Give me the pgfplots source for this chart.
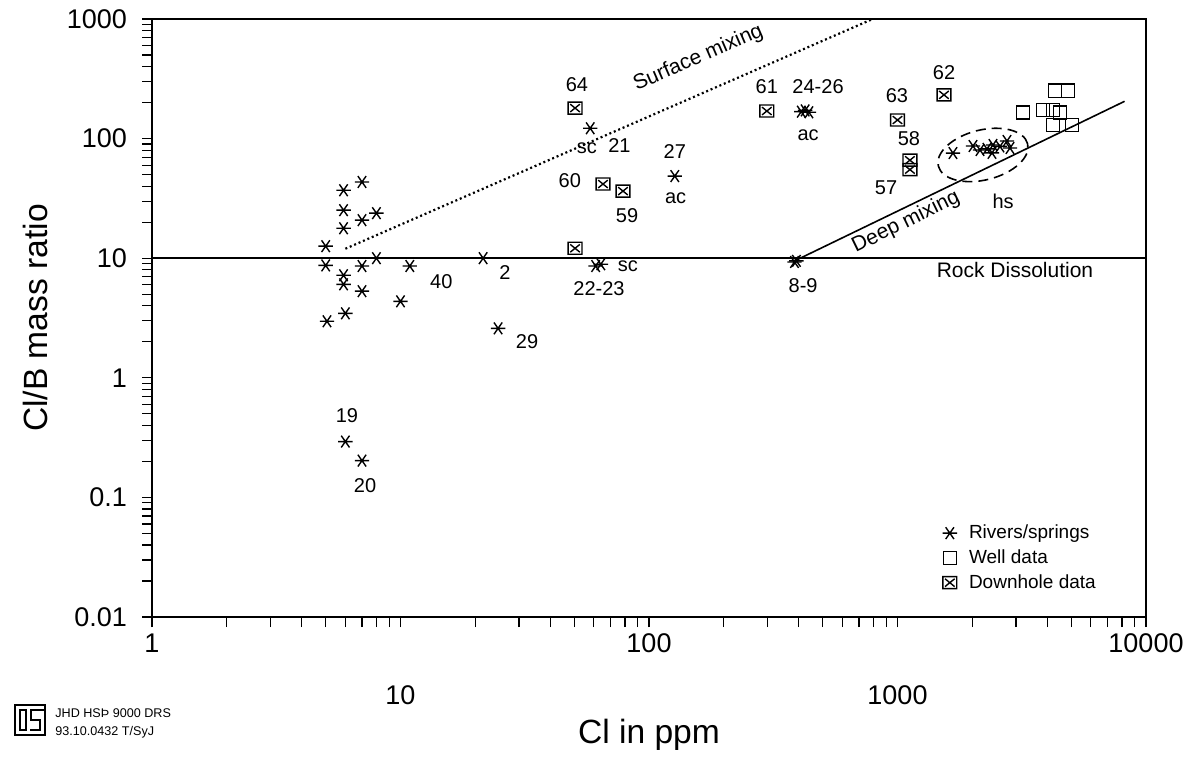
\documentclass[border=0pt]{standalone}
\usepackage{fontspec}
\setmainfont{Liberation Sans}
\usepackage{pgfplots}
\pgfplotsset{compat=1.18}
\usetikzlibrary{shapes.geometric}

\pgfdeclareplotmark{riv}{%
 \pgfpathmoveto{\pgfqpoint{-\pgfplotmarksize}{0pt}}%
 \pgfpathlineto{\pgfqpoint{\pgfplotmarksize}{0pt}}%
 \pgfpathmoveto{\pgfqpoint{-0.574\pgfplotmarksize}{-0.819\pgfplotmarksize}}%
 \pgfpathlineto{\pgfqpoint{0.574\pgfplotmarksize}{0.819\pgfplotmarksize}}%
 \pgfpathmoveto{\pgfqpoint{-0.574\pgfplotmarksize}{0.819\pgfplotmarksize}}%
 \pgfpathlineto{\pgfqpoint{0.574\pgfplotmarksize}{-0.819\pgfplotmarksize}}%
 \pgfusepathqstroke}
\pgfdeclareplotmark{boxx}{%
 \pgfpathrectangle{\pgfqpoint{-1.15\pgfplotmarksize}{-\pgfplotmarksize}}{\pgfqpoint{2.3\pgfplotmarksize}{2\pgfplotmarksize}}%
 \pgfpathmoveto{\pgfqpoint{-0.8\pgfplotmarksize}{-0.65\pgfplotmarksize}}%
 \pgfpathlineto{\pgfqpoint{0.8\pgfplotmarksize}{0.65\pgfplotmarksize}}%
 \pgfpathmoveto{\pgfqpoint{-0.8\pgfplotmarksize}{0.65\pgfplotmarksize}}%
 \pgfpathlineto{\pgfqpoint{0.8\pgfplotmarksize}{-0.65\pgfplotmarksize}}%
 \pgfusepathqstroke}

\begin{document}
\begin{tikzpicture}
\begin{axis}[
  at={(0pt,0pt)}, anchor=south west,
  scale only axis, width=497pt, height=299pt,
  xmode=log, ymode=log,
  xmin=1, xmax=10000, ymin=0.01, ymax=1000,
  axis line style={line width=0.8pt},
  every tick/.style={black, line width=0.6pt},
  tick align=outside, xtick pos=left, ytick pos=left,
  major tick length=5pt, minor tick length=5pt,
  xtick={1,10,100,1000,10000},
  xticklabels={1,\raisebox{-26pt}[\height][0pt]{10},100,\raisebox{-26pt}[\height][0pt]{1000},10000},
  ytick={0.01,0.1,1,10,100,1000},
  yticklabels={0.01,0.1,1,10,100,1000},
  tick label style={font=\fontsize{13.5}{15}\selectfont},
  yticklabel style={xshift=-4pt},
  xlabel={Cl in ppm}, ylabel={Cl/B mass ratio},
  label style={font=\fontsize{16.8}{19}\selectfont},
  xlabel style={at={(axis description cs:0.5,-0.1973)}, anchor=center},
  ylabel style={at={(axis description cs:-0.1177,0.5)}, anchor=center},
  legend style={at={(0.795,0.036)}, anchor=south west, draw=none, fill=none,
    font=\fontsize{9.5}{11.75}\selectfont, inner sep=0pt, row sep=0pt, column sep=4pt},
  legend cell align=left,
  clip=false,
]
% Rivers / springs
\addplot[only marks, mark=riv, mark size=3.6pt, line width=0.7pt, black] coordinates {
 (5,12.6) (5,8.7) (5.06,2.97)
 (5.9,37) (5.9,25.2) (5.9,17.8) (5.9,7.2) (5.9,6.05) (6,3.46)
 (7,43.4) (7,20.8) (7,8.6) (7,5.3)
 (8,23.8) (8,10) (10,4.36) (10.9,8.6)
 (21.5,10) (24.7,2.59)
 (58,122) (61,8.6) (64,8.9) (127,48.6)
 (410,168) (425,172) (440,166)
 (385,9.3) (392,9.5)
 (6,0.293) (7,0.203)
 (1672,75.7) (2013,86.7) (2148,80.3) (2291,82) (2422,88.4) (2400,76)
 (2585,86) (2758,95.5) (2836,83.4)
};
% Well data
\addplot[only marks, mark=square, mark size=3.3pt, line width=0.7pt, black] coordinates {
 (4300,251) (4850,251) (3200,165) (3850,174) (4225,174) (4510,165) (4225,130) (5040,130)
};
% Downhole data
\addplot[only marks, mark=boxx, mark size=3pt, line width=0.7pt, black] coordinates {
 (50.4,180) (65.3,41.7) (78.6,36.4) (50.4,12.1) (298,170)
 (1000,143) (1538,232) (1122,66) (1122,55)
};
\legend{Rivers/springs, Well data, Downhole data}

% mixing and dissolution lines
\addplot[forget plot, black, line width=1.1pt, dash pattern=on 1pt off 1.4pt] coordinates {(6,12) (795,1000)};
\addplot[forget plot, black, line width=0.8pt] coordinates {(390,9.6) (8200,205)};
\addplot[forget plot, black, line width=0.7pt] coordinates {(1,10) (10000,10)};

\node[draw, dashed, line width=0.8pt, dash pattern=on 5pt off 3pt, ellipse, minimum width=46pt, minimum height=25pt, rotate=14, inner sep=0pt] at (axis cs:2208,73) {};

\begin{scope}[every node/.style={font=\fontsize{10}{12}\selectfont}]
\node at (axis cs:51.3,285) {64};
\node at (axis cs:56.3,83.4) {sc};
\node at (axis cs:76,86.7) {21};
\node at (axis cs:48,44.2) {60};
\node at (axis cs:81.6,22.5) {59};
\node at (axis cs:127,78) {27};
\node at (axis cs:128,31.8) {ac};
\node at (axis cs:298,270) {61};
\node at (axis cs:479,270) {24-26};
\node at (axis cs:437,107) {ac};
\node at (axis cs:995,227) {63};
\node at (axis cs:1539,354) {62};
\node at (axis cs:1112,99.3) {58};
\node at (axis cs:899,38.5) {57};
\node at (axis cs:82.3,8.57) {sc};
\node at (axis cs:62.9,5.61) {22-23};
\node at (axis cs:417,5.9) {8-9};
\node at (axis cs:14.6,6.42) {40};
\node at (axis cs:26.3,7.64) {2};
\node at (axis cs:32.3,2.02) {29};
\node at (axis cs:6.09,0.484) {19};
\node at (axis cs:7.2,0.126) {20};
\node at (axis cs:2661,30) {hs};
\end{scope}
\node[font=\fontsize{10.5}{12}\selectfont, rotate=23.5] at (axis cs:158,470) {Surface mixing};
\node[font=\fontsize{10.5}{12}\selectfont, rotate=26] at (axis cs:1082,20) {Deep mixing};
\node[font=\fontsize{10.5}{12}\selectfont] at (axis cs:2971,7.93) {Rock Dissolution};
\end{axis}
% logo and reference text
\draw[line width=0.7pt] (-68.5pt,-59pt) rectangle (-53.5pt,-44pt);
\draw[line width=0.6pt] (-66pt,-56.5pt) rectangle (-63pt,-46.5pt);
\draw[line width=0.6pt] (-53.5pt,-46.5pt) -- (-60.5pt,-46.5pt) -- (-60.5pt,-51.5pt) -- (-56pt,-51.5pt) -- (-56pt,-56.5pt) -- (-61pt,-56.5pt);
\node[anchor=west, font=\fontsize{6.3}{7}\selectfont, inner sep=0pt] at (-48.5pt,-48pt) {JHD HSÞ 9000 DRS};
\node[anchor=west, font=\fontsize{6.3}{7}\selectfont, inner sep=0pt] at (-48.5pt,-57.5pt) {93.10.0432 T/SyJ};
\path (-76pt,-67.5pt) rectangle (521.5pt,308.5pt);
\end{tikzpicture}
\end{document}
